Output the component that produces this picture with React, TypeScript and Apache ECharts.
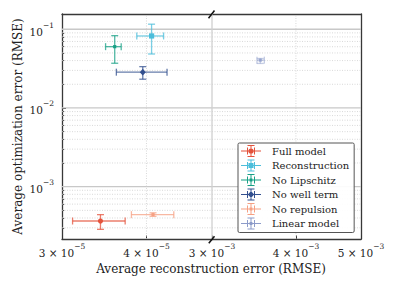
import React, { useEffect, useRef } from "react";
import * as echarts from "echarts";

// ---- data ----
const seriesNames = ["Full model", "Reconstruction", "No Lipschitz", "No well term", "No repulsion", "Linear model"];
const seriesColors = ["#e4533c", "#4cbedb", "#17a085", "#33508f", "#f6a083", "#8c9bc9"];
const seriesOpacity = [0.75, 0.75, 0.75, 0.75, 0.75, 0.5];
const seriesPanel = [0, 0, 0, 0, 0, 1];
const markerShapes = ["circle", "square", "small", "diamond", "small", "small"];
const reconX = [3.42e-5, 4.07e-5, 3.59e-5, 3.95e-5, 4.09e-5, 3.54e-3];
const reconXLow = [3.11e-5, 3.87e-5, 3.48e-5, 3.61e-5, 3.80e-5, 3.50e-3];
const reconXHigh = [3.72e-5, 4.24e-5, 3.67e-5, 4.29e-5, 4.39e-5, 3.59e-3];
const optY = [3.66e-4, 8.22e-2, 6.01e-2, 2.85e-2, 4.41e-4, 4.05e-2];
const optYLow = [2.87e-4, 4.85e-2, 3.70e-2, 2.32e-2, 4.2e-4, 3.68e-2];
const optYHigh = [4.41e-4, 1.16e-1, 8.29e-2, 3.35e-2, 4.65e-4, 4.25e-2];

// ---- axes ----
const xRangeLeft = [3e-5, 5e-5];
const xRangeRight = [3e-3, 5e-3];
const yRange = [2.163e-4, 1.563e-1];
const xTicksLeft = [3e-5, 4e-5];
const xTicksRight = [3e-3, 4e-3, 5e-3];
const yMajorTicks = [1e-3, 1e-2, 1e-1];
const yMinorTicks = [
  3e-4, 4e-4, 5e-4, 6e-4, 7e-4, 8e-4, 9e-4,
  2e-3, 3e-3, 4e-3, 5e-3, 6e-3, 7e-3, 8e-3, 9e-3,
  2e-2, 3e-2, 4e-2, 5e-2, 6e-2, 7e-2, 8e-2, 9e-2,
];
const xGridLeft = [4e-5];
const xGridRight = [4e-3];
const xGridRightSolid = [3e-3];

const L = (v: number) => Math.log10(v);
const FONT = "'DejaVu Serif', serif";

const fmt = (v: number) => {
  const e = Math.floor(v + 1e-6);
  const m = Math.round(Math.pow(10, v - e));
  const exp = "\u2212" + Math.abs(e);
  return m === 1 ? `{b|10}{s|${exp}}` : `{b|${m} \u00d7 10}{s|${exp}}`;
};
const rich = {
  b: { fontFamily: FONT, fontSize: 10.5, color: "#222", lineHeight: 16, verticalAlign: "bottom" },
  s: { fontFamily: FONT, fontSize: 7.5, color: "#222", lineHeight: 9, verticalAlign: "top" },
};

const iconBase =
  "M0 5.5H20V6.5H0Z M6 2.5H7V9.5H6Z M13 2.5H14V9.5H13Z M9.5 0H10.5V12H9.5Z M6.5 0H13.5V1H6.5Z M6.5 11H13.5V12H6.5Z ";
const iconMarker: Record<string, string> = {
  circle: "M12.6 6A2.6 2.6 0 1 1 7.4 6A2.6 2.6 0 1 1 12.6 6Z",
  square: "M7.5 3.5H12.5V8.5H7.5Z",
  diamond: "M10 2.6L13.2 6L10 9.4L6.8 6Z",
  small: "M8.6 4.6H11.4V7.4H8.6Z",
};

function errorRender(shape: string, color: string, op: number) {
  return (params: any, api: any) => {
    const x = api.value(0), y = api.value(1);
    const c = api.coord([x, y]);
    const l = api.coord([api.value(2), y]);
    const r = api.coord([api.value(3), y]);
    const b = api.coord([x, api.value(4)]);
    const t = api.coord([x, api.value(5)]);
    const cap = 3.5;
    const st = { stroke: color, lineWidth: 1.3, opacity: op };
    const ln = (x1: number, y1: number, x2: number, y2: number) => ({
      type: "line", shape: { x1, y1, x2, y2 }, style: st,
    });
    const children: any[] = [
      ln(l[0], l[1], r[0], r[1]),
      ln(t[0], t[1], b[0], b[1]),
      ln(l[0], l[1] - cap, l[0], l[1] + cap),
      ln(r[0], r[1] - cap, r[0], r[1] + cap),
      ln(t[0] - cap, t[1], t[0] + cap, t[1]),
      ln(b[0] - cap, b[1], b[0] + cap, b[1]),
    ];
    const mop = Math.min(1, op + 0.25);
    if (shape === "circle") children.push({ type: "circle", shape: { cx: c[0], cy: c[1], r: 2.6 }, style: { fill: color, opacity: mop } });
    else if (shape === "square") children.push({ type: "rect", shape: { x: c[0] - 2.6, y: c[1] - 2.6, width: 5.2, height: 5.2 }, style: { fill: color, opacity: mop } });
    else if (shape === "diamond")
      children.push({ type: "polygon", shape: { points: [[c[0], c[1] - 3.3], [c[0] + 3, c[1]], [c[0], c[1] + 3.3], [c[0] - 3, c[1]]] }, style: { fill: color, opacity: mop } });
    else children.push({ type: "rect", shape: { x: c[0] - 1.6, y: c[1] - 1.6, width: 3.2, height: 3.2 }, style: { fill: color, opacity: mop } });
    return { type: "group", children };
  };
}

function gridRender(panel: number) {
  const xr = panel === 0 ? xRangeLeft : xRangeRight;
  return (params: any, api: any) => {
    const kind = api.value(2); // 0 major h, 1 minor h, 2 dotted v, 3 solid v
    const v = api.value(1);
    let p1, p2;
    if (kind < 2) {
      p1 = api.coord([L(xr[0]), v]);
      p2 = api.coord([L(xr[1]), v]);
    } else {
      const xv = api.value(0);
      p1 = api.coord([xv, L(yRange[0])]);
      p2 = api.coord([xv, L(yRange[1])]);
    }
    const style =
      kind === 0 ? { stroke: "#c8c8c8", lineWidth: 1.3 }
      : kind === 3 ? { stroke: "#d0d0d0", lineWidth: 1.3 }
      : { stroke: "#cfcfcf", lineWidth: 0.8, lineDash: [1, 1.5] };
    return { type: "line", shape: { x1: p1[0], y1: p1[1], x2: p2[0], y2: p2[1] }, style, silent: true };
  };
}

export default function App() {
  const ref = useRef<HTMLDivElement>(null);
  useEffect(() => {
    if (!ref.current) return;
    const chart = echarts.init(ref.current, undefined, { renderer: "svg" });

    const gridData = (panel: number) => {
      const xr = panel === 0 ? xRangeLeft : xRangeRight;
      const d: number[][] = [];
      yMajorTicks.forEach((v) => d.push([L(xr[0]), L(v), 0]));
      yMinorTicks.forEach((v) => d.push([L(xr[0]), L(v), 1]));
      (panel === 0 ? xGridLeft : xGridRight).forEach((v) => d.push([L(v), L(yRange[0]), 2]));
      if (panel === 1) xGridRightSolid.forEach((v) => d.push([L(v), L(yRange[0]), 3]));
      return d;
    };

    const spine = { show: true, lineStyle: { color: "#383838", width: 1.3 } };
    const xAxisBase = (panel: number, pos: string, labels: boolean) => {
      const xr = panel === 0 ? xRangeLeft : xRangeRight;
      const ticks = (panel === 0 ? xTicksLeft : xTicksRight).map(L);
      return {
        type: "value", gridIndex: panel, position: pos, min: L(xr[0]), max: L(xr[1]),
        axisLine: spine,
        axisTick: labels ? { show: true, inside: true, length: 3.5, customValues: ticks, lineStyle: { color: "#333", width: 1 } } : { show: false },
        axisLabel: labels ? { show: true, customValues: ticks, formatter: fmt, rich, margin: 3, hideOverlap: false } : { show: false },
        splitLine: { show: false },
      };
    };

    const series: any[] = [
      { type: "custom", name: "_grid0", xAxisIndex: 0, yAxisIndex: 0, z: 1, silent: true, renderItem: gridRender(0), data: gridData(0) },
      { type: "custom", name: "_grid1", xAxisIndex: 1, yAxisIndex: 2, z: 1, silent: true, renderItem: gridRender(1), data: gridData(1) },
    ];
    seriesNames.forEach((name, i) => {
      const p = seriesPanel[i];
      series.push({
        type: "custom", name, xAxisIndex: p, yAxisIndex: p === 0 ? 0 : 2, z: 3,
        itemStyle: { color: seriesColors[i] },
        renderItem: errorRender(markerShapes[i], seriesColors[i], seriesOpacity[i]),
        data: [[L(reconX[i]), L(optY[i]), L(reconXLow[i]), L(reconXHigh[i]), L(optYLow[i]), L(optYHigh[i])]],
      });
    });

    chart.setOption({
      animation: false,
      backgroundColor: "#ffffff",
      grid: [
        { left: 62, top: 14, width: 150, height: 225 },
        { left: 212, top: 14, width: 149, height: 225 },
      ],
      xAxis: [xAxisBase(0, "bottom", true), xAxisBase(1, "bottom", true), xAxisBase(0, "top", false), xAxisBase(1, "top", false)],
      yAxis: [
        {
          type: "value", gridIndex: 0, position: "left", min: L(yRange[0]), max: L(yRange[1]),
          axisLine: spine,
          axisTick: { show: true, inside: true, length: 4, customValues: yMajorTicks.map(L), lineStyle: { color: "#333", width: 1 } },
          axisLabel: { show: true, customValues: yMajorTicks.map(L), formatter: fmt, rich, margin: 8 },
          splitLine: { show: false },
          name: "Average optimization error (RMSE)", nameLocation: "middle", nameGap: 38,
          nameTextStyle: { fontFamily: FONT, fontSize: 12, color: "#222" },
        },
        {
          type: "value", gridIndex: 0, position: "left", min: L(yRange[0]), max: L(yRange[1]),
          axisLine: { show: false },
          axisTick: { show: true, inside: true, length: 2.2, customValues: yMinorTicks.map(L), lineStyle: { color: "#333", width: 0.8 } },
          axisLabel: { show: false }, splitLine: { show: false },
        },
        {
          type: "value", gridIndex: 1, position: "right", min: L(yRange[0]), max: L(yRange[1]),
          axisLine: spine, axisTick: { show: false }, axisLabel: { show: false }, splitLine: { show: false },
        },
      ],
      legend: {
        orient: "vertical", left: 238, top: 143,
        itemWidth: 20, itemHeight: 12, itemGap: 2.5,
        padding: [2, 5, 3, 3],
        borderColor: "#555", borderWidth: 1, borderRadius: 1.5,
        backgroundColor: "rgba(255,255,255,0.92)",
        textStyle: { fontFamily: FONT, fontSize: 10, color: "#222", padding: [0, 0, 0, 6] },
        data: seriesNames.map((n, i) => ({ name: n, icon: "path://" + iconBase + iconMarker[markerShapes[i]] })),
      },
      graphic: [
        { type: "text", x: 211, y: 269, style: { text: "Average reconstruction error (RMSE)", align: "center", verticalAlign: "middle", fontFamily: FONT, fontSize: 12, fill: "#222" } },
        { type: "line", shape: { x1: 208.5, y1: 18.3, x2: 214.5, y2: 10.5 }, style: { stroke: "#111", lineWidth: 1.5 }, z: 100 },
        { type: "line", shape: { x1: 208.8, y1: 243.2, x2: 214.5, y2: 236.2 }, style: { stroke: "#111", lineWidth: 1.5 }, z: 100 },
      ],
      series,
    });
    return () => chart.dispose();
  }, []);
  return <div ref={ref} style={{ position: "fixed", left: 0, top: 0, width: 396, height: 287 }} />;
}
